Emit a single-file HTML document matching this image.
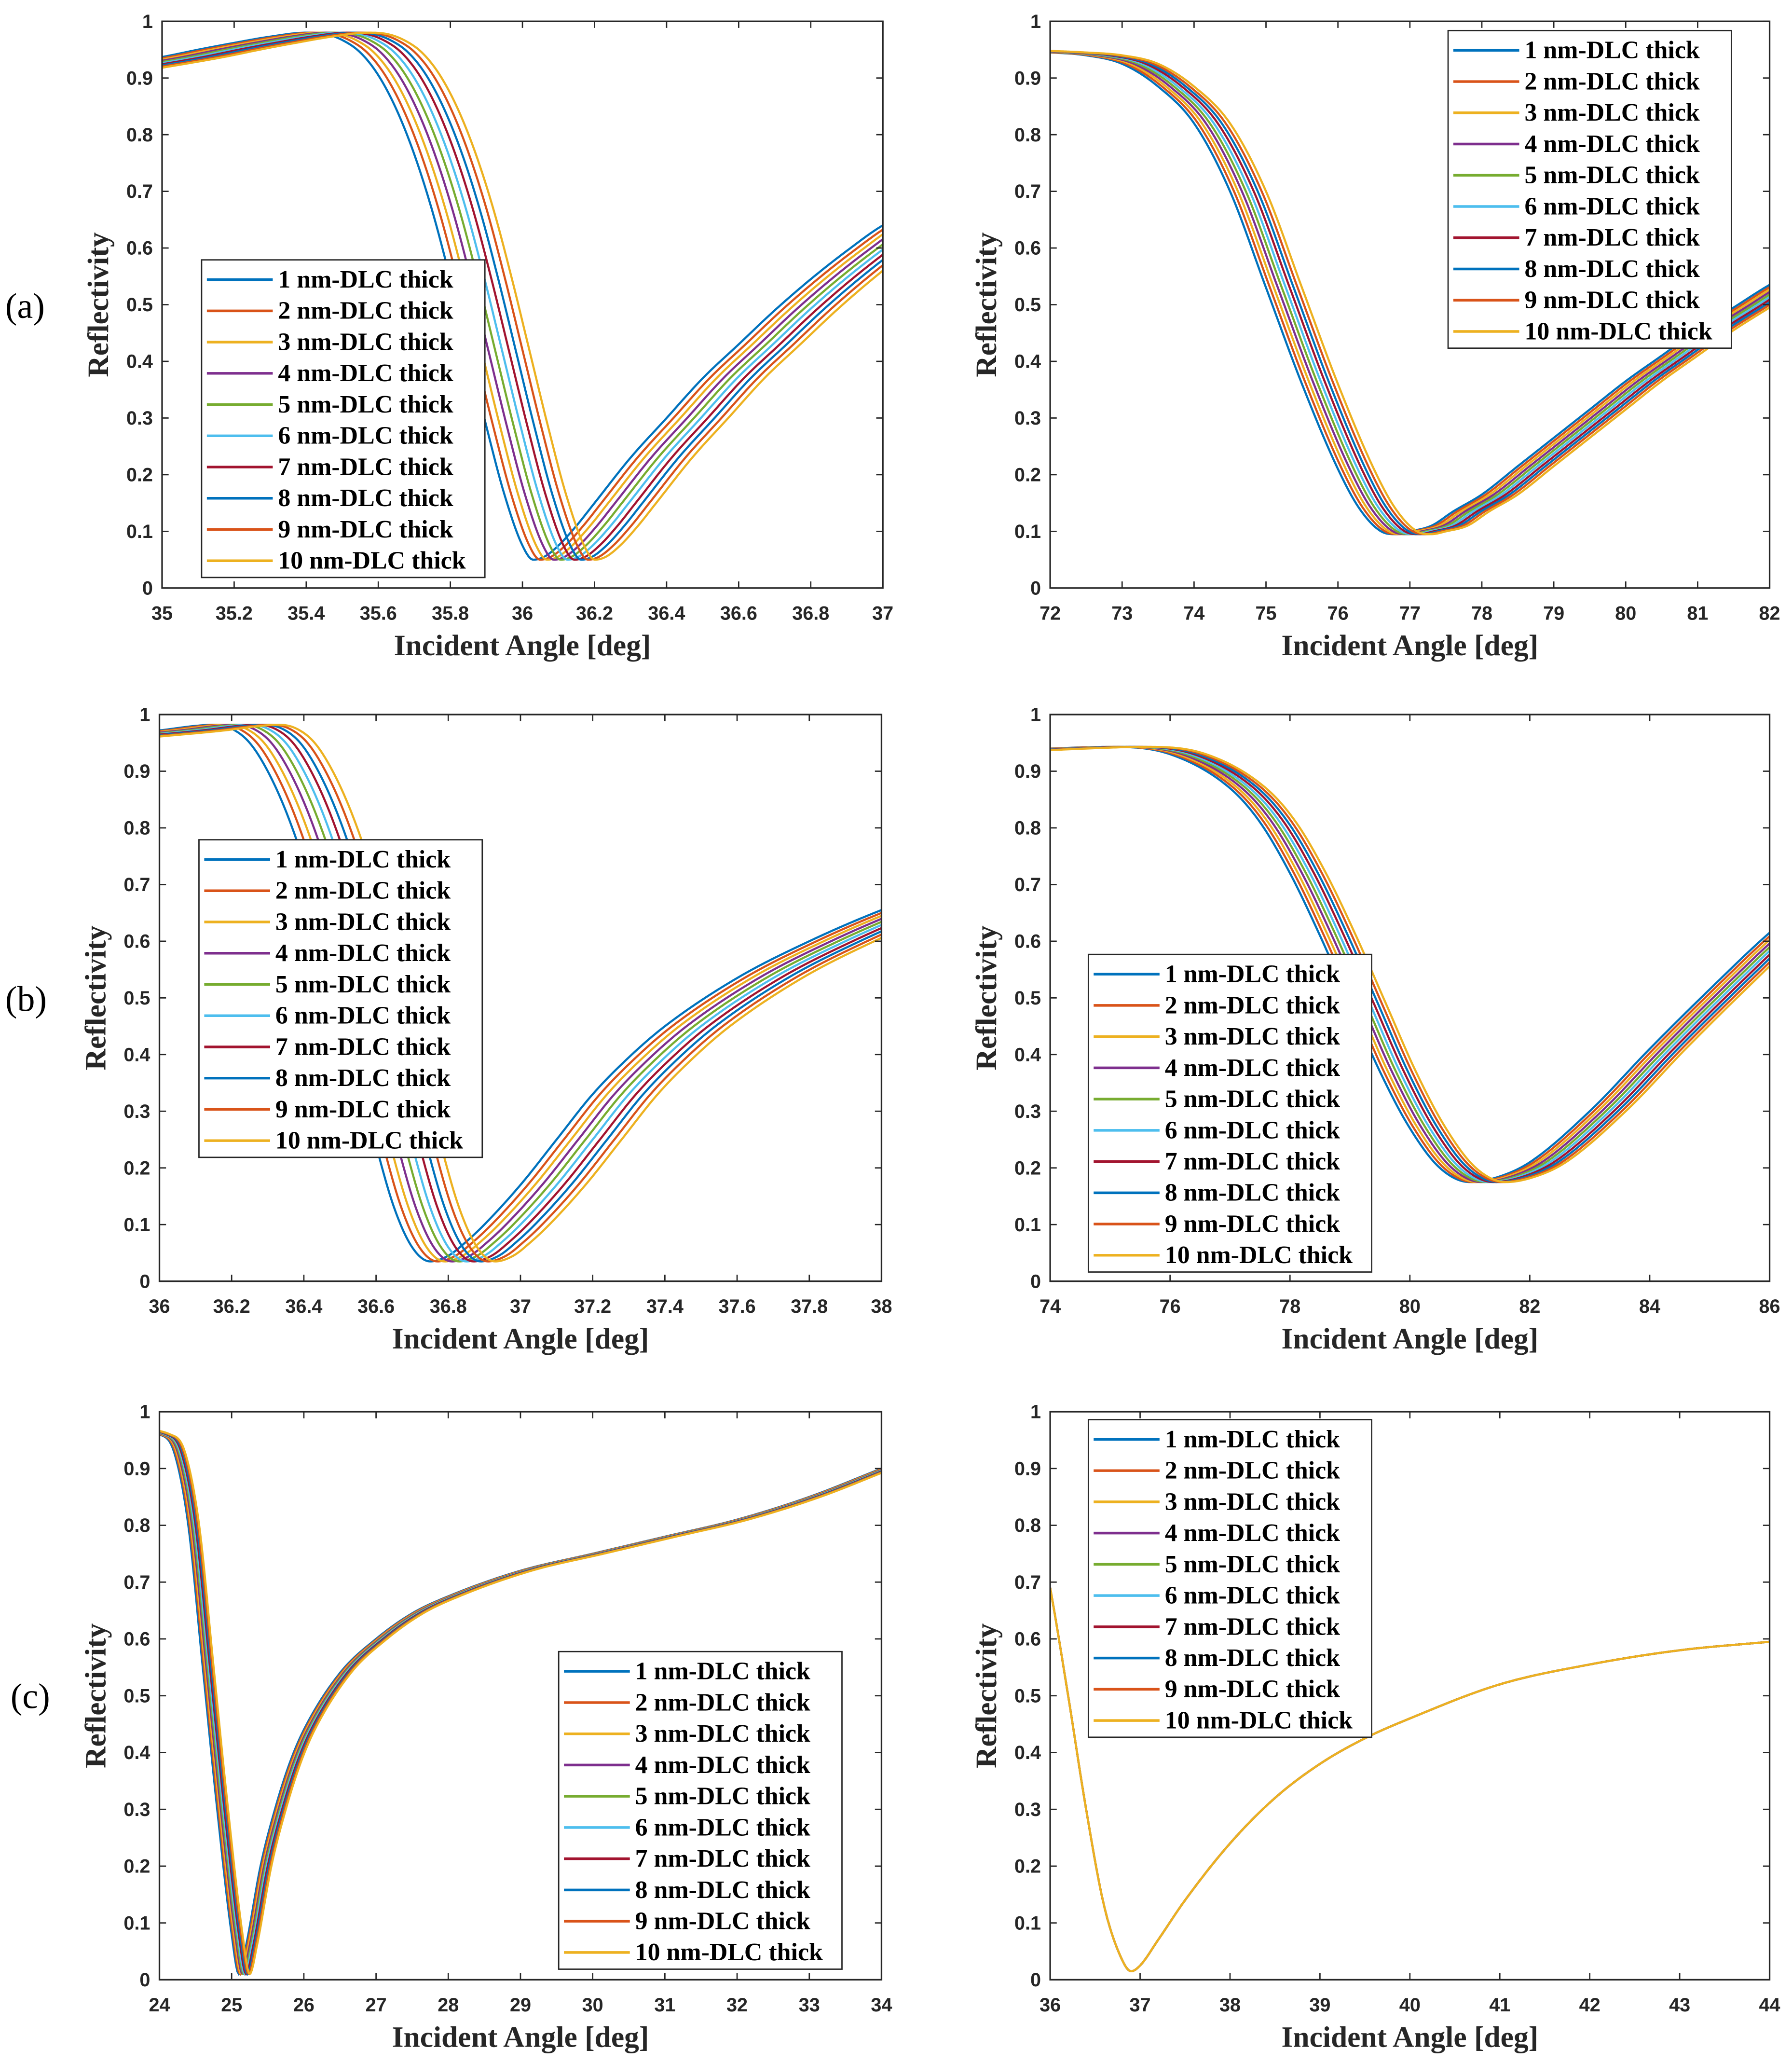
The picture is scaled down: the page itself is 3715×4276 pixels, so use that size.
<!DOCTYPE html>
<html><head><meta charset="utf-8"><style>
html,body{margin:0;padding:0;background:#fff;}
svg{display:block;}
.tick{font-family:"Liberation Sans",sans-serif;font-size:14.5px;fill:#262626;font-weight:bold;}
.lab{font-family:"Liberation Serif",serif;font-size:22.5px;font-weight:bold;fill:#262626;}
.leg{font-family:"Liberation Serif",serif;font-size:19px;font-weight:bold;fill:#000;}
.pl{font-family:"Liberation Serif",serif;font-size:27px;fill:#000;}
</style></head><body>
<svg id="fig" width="3715" height="4276" viewBox="0 0 1360 1565" xmlns="http://www.w3.org/2000/svg">
<rect width="1360" height="1565" fill="#fff"/>
<text class="pl" x="4" y="241">(a)</text>
<text class="pl" x="4" y="767">(b)</text>
<text class="pl" x="8" y="1296">(c)</text>
</svg>
<script>
const colors=["#0072BD","#D95319","#EDB120","#7E2F8E","#77AC30","#4DBEEE","#A2142F","#0072BD","#D95319","#EDB120"];
const legendLabels=["1 nm-DLC thick","2 nm-DLC thick","3 nm-DLC thick","4 nm-DLC thick","5 nm-DLC thick","6 nm-DLC thick","7 nm-DLC thick","8 nm-DLC thick","9 nm-DLC thick","10 nm-DLC thick"];
const yTicks=[0,0.1,0.2,0.3,0.4,0.5,0.6,0.7,0.8,0.9,1];
const yTickLabels=["0","0.1","0.2","0.3","0.4","0.5","0.6","0.7","0.8","0.9","1"];
// panel a-left
const aLx=[34.8,35,35.1,35.2,35.3,35.4,35.45,35.5,35.55,35.6,35.65,35.7,35.75,35.8,35.85,35.9,35.95,36.0,36.03,36.06,36.1,36.15,36.2,36.3,36.4,36.5,36.6,36.7,36.8,36.9,37.0,37.2];
const aLy=[0.915,0.937,0.95,0.962,0.973,0.98,0.978,0.967,0.945,0.905,0.845,0.765,0.665,0.545,0.415,0.285,0.165,0.075,0.05,0.055,0.075,0.11,0.15,0.23,0.3,0.37,0.43,0.49,0.545,0.595,0.64,0.7];
const aLshift=[0,0.019,0.038,0.057,0.076,0.095,0.114,0.133,0.152,0.171];
const aLticks=[35,35.2,35.4,35.6,35.8,36,36.2,36.4,36.6,36.8,37];
const aLtickLabels=["35","35.2","35.4","35.6","35.8","36","36.2","36.4","36.6","36.8","37"];
// panel a-right
const aRx=[71,72,72.5,73,73.5,74,74.5,75,75.5,76,76.3,76.6,76.8,77,77.3,77.6,78,78.5,79,79.5,80,80.5,81,81.5,82,83];
const aRy=[0.95,0.945,0.94,0.925,0.885,0.82,0.7,0.53,0.36,0.21,0.14,0.1,0.095,0.1,0.11,0.135,0.165,0.215,0.265,0.315,0.365,0.41,0.455,0.495,0.535,0.6];
const aRshift=[0,0.055,0.11,0.165,0.22,0.275,0.33,0.385,0.44,0.5];
const aRticks=[72,73,74,75,76,77,78,79,80,81,82];
const aRtickLabels=["72","73","74","75","76","77","78","79","80","81","82"];
// panel b-left
const bLx=[35.8,36,36.1,36.15,36.2,36.25,36.3,36.35,36.4,36.45,36.5,36.55,36.6,36.65,36.7,36.75,36.8,36.85,36.9,37.0,37.1,37.2,37.3,37.4,37.6,37.8,38,38.2];
const bLy=[0.96,0.972,0.98,0.982,0.975,0.95,0.9,0.83,0.74,0.63,0.5,0.37,0.24,0.13,0.06,0.035,0.045,0.07,0.1,0.17,0.25,0.33,0.395,0.45,0.535,0.6,0.655,0.7];
const bLshift=[0,0.02,0.04,0.06,0.08,0.1,0.12,0.14,0.16,0.18];
const bLticks=[36,36.2,36.4,36.6,36.8,37,37.2,37.4,37.6,37.8,38];
const bLtickLabels=["36","36.2","36.4","36.6","36.8","37","37.2","37.4","37.6","37.8","38"];
// panel b-right
const bRx=[73,74,75,76,77,77.5,78,78.5,79,79.5,80,80.5,81,81.5,82,83,84,85,86,87];
const bRy=[0.935,0.94,0.943,0.93,0.87,0.81,0.72,0.61,0.49,0.37,0.27,0.2,0.175,0.185,0.21,0.3,0.41,0.515,0.615,0.7];
const bRshift=[0,0.067,0.133,0.2,0.267,0.333,0.4,0.467,0.533,0.6];
const bRticks=[74,76,78,80,82,84,86];
const bRtickLabels=["74","76","78","80","82","84","86"];
// panel c-left
const cLx=[23.5,24,24.2,24.4,24.6,24.8,25,25.1,25.2,25.4,25.6,25.8,26,26.5,27,27.5,28,29,30,31,32,33,34,35];
const cLy=[0.97,0.96,0.93,0.8,0.55,0.3,0.08,0.01,0.06,0.2,0.3,0.38,0.44,0.54,0.6,0.645,0.675,0.72,0.75,0.78,0.81,0.85,0.9,0.95];
const cLshift=[0,0.017,0.033,0.05,0.067,0.083,0.1,0.117,0.133,0.15];
const cLticks=[24,25,26,27,28,29,30,31,32,33,34];
const cLtickLabels=["24","25","26","27","28","29","30","31","32","33","34"];
// panel c-right
const cRx=[35.8,36,36.2,36.4,36.6,36.8,36.9,37,37.2,37.5,38,38.5,39,39.5,40,41,42,43,44,45];
const cRy=[0.85,0.69,0.5,0.3,0.13,0.035,0.015,0.025,0.07,0.14,0.24,0.32,0.38,0.425,0.46,0.52,0.555,0.58,0.595,0.61];
const cRshift=[0,0,0,0,0,0,0,0,0,0];
const cRticks=[36,37,38,39,40,41,42,43,44];
const cRtickLabels=["36","37","38","39","40","41","42","43","44"];

const NS="http://www.w3.org/2000/svg";
const svg=document.getElementById('fig');
function mk(tag,attrs,parent){const e=document.createElementNS(NS,tag);for(const k in attrs)e.setAttribute(k,attrs[k]);(parent||svg).appendChild(e);return e;}
// monotone cubic interpolation
function spline(xs,ys){
  const n=xs.length,d=[],m=new Array(n);
  for(let i=0;i<n-1;i++)d.push((ys[i+1]-ys[i])/(xs[i+1]-xs[i]));
  m[0]=d[0];m[n-1]=d[n-2];
  for(let i=1;i<n-1;i++){m[i]=(d[i-1]*d[i]<=0)?0:(d[i-1]+d[i])/2;}
  for(let i=0;i<n-1;i++){if(d[i]===0){m[i]=0;m[i+1]=0;continue;}const a=m[i]/d[i],b=m[i+1]/d[i],s=a*a+b*b;if(s>9){const t=3/Math.sqrt(s);m[i]=t*a*d[i];m[i+1]=t*b*d[i];}}
  return function(x){
    if(x<=xs[0])return ys[0];if(x>=xs[n-1])return ys[n-1];
    let i=0;while(x>xs[i+1])i++;
    const h=xs[i+1]-xs[i],t=(x-xs[i])/h,t2=t*t,t3=t2*t;
    return (2*t3-3*t2+1)*ys[i]+(t3-2*t2+t)*h*m[i]+(-2*t3+3*t2)*ys[i+1]+(t3-t2)*h*m[i+1];
  };
}

function panel(name,box,xr,xs,ys,shifts,ticks,tickLabels,leg){
  const [L,T,R,B]=box;
  const g=mk('g',{});
  
  
  const sx=v=>L+(v-xr[0])/(xr[1]-xr[0])*(R-L);
  const sy=v=>B-v*(B-T);
  const clipId='clip-'+name;
  const cp=mk('clipPath',{id:clipId},g);mk('rect',{x:L,y:T,width:R-L,height:B-T},cp);
  const cg=mk('g',{'clip-path':'url(#'+clipId+')'},g);
  const f=spline(xs,ys);
  shifts.forEach((s,i)=>{
    let d='';const N=500;
    for(let k=0;k<=N;k++){const x=xr[0]+(xr[1]-xr[0])*k/N;const y=f(x-s);d+=(k?'L':'M')+sx(x).toFixed(2)+' '+sy(y).toFixed(2);}
    const p=mk('path',{d:d,fill:'none',stroke:colors[i],'stroke-width':1.6},cg);
    
    
  });
  const fr=mk('rect',{x:L,y:T,width:R-L,height:B-T,fill:'none',stroke:'#262626','stroke-width':1.2},g);
  
  
  ticks.forEach((t,i)=>{
    const x=sx(t);
    mk('line',{x1:x,y1:B,x2:x,y2:B-5,stroke:'#262626'},g);
    mk('line',{x1:x,y1:T,x2:x,y2:T+5,stroke:'#262626'},g);
    const tx=mk('text',{x:x,y:B+24,'text-anchor':'middle',class:'tick'},g);
    tx.textContent=tickLabels[i];
    
    
  });
  yTicks.forEach((t,i)=>{
    const y=sy(t);
    mk('line',{x1:L,y1:y,x2:L+5,y2:y,stroke:'#262626'},g);
    mk('line',{x1:R,y1:y,x2:R-5,y2:y,stroke:'#262626'},g);
    const tx=mk('text',{x:L-7,y:y+5,'text-anchor':'end',class:'tick'},g);
    tx.textContent=yTickLabels[i];
    
    
  });
  const xl=mk('text',{x:(L+R)/2,y:B+51,'text-anchor':'middle',class:'lab'},g);
  xl.textContent='Incident Angle [deg]';
  
  
  const yc=(T+B)/2;
  const yl=mk('text',{x:L-41,y:yc,'text-anchor':'middle',class:'lab',transform:'rotate(-90 '+(L-41)+' '+yc+')'},g);
  yl.textContent='Reflectivity';
  
  
  const [lx,ly]=leg;
  const lg=mk('g',{},g);
  
  
  mk('rect',{x:lx,y:ly,width:215,height:241,fill:'#fff',stroke:'#262626','stroke-width':1},lg);
  legendLabels.forEach((lab,i)=>{
    const y=ly+15+i*23.7;
    const e=mk('g',{},lg);
    
    
    mk('line',{x1:lx+4,y1:y,x2:lx+54,y2:y,stroke:colors[i],'stroke-width':2},e);
    const t=mk('text',{x:lx+58,y:y+6,class:'leg'},e);t.textContent=lab;
  });
}
panel('chart-a-left',[123,16,670,446],[35,37],aLx,aLy,aLshift,aLticks,aLtickLabels,[153,197]);
panel('chart-a-right',[797,16,1343,446],[72,82],aRx,aRy,aRshift,aRticks,aRtickLabels,[1099,23]);
panel('chart-b-left',[121,542,669,972],[36,38],bLx,bLy,bLshift,bLticks,bLtickLabels,[151,637]);
panel('chart-b-right',[797,542,1343,972],[74,86],bRx,bRy,bRshift,bRticks,bRtickLabels,[826,724]);
panel('chart-c-left',[121,1071,669,1502],[24,34],cLx,cLy,cLshift,cLticks,cLtickLabels,[424,1253]);
panel('chart-c-right',[797,1071,1343,1502],[36,44],cRx,cRy,cRshift,cRticks,cRtickLabels,[826,1077]);
</script>
</body></html>
